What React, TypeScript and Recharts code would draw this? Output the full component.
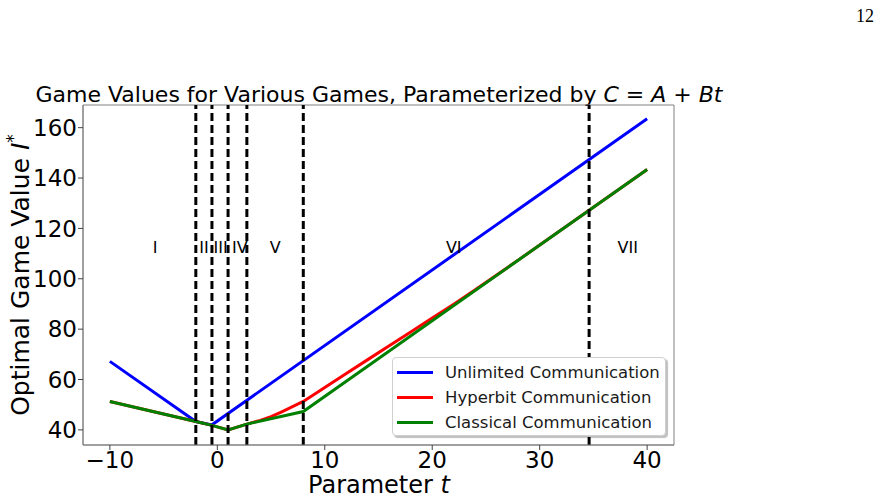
import { ComposedChart, Line, Scatter, XAxis, YAxis, ReferenceLine, ReferenceArea, Legend } from 'recharts';

const unlimited = [
  { t: -10, v: 67.2 },
  { t: -2, v: 43.3 },
  { t: -0.5, v: 42.0 },
  { t: 40, v: 163.5 },
];

const hyperbit = [
  { t: -10, v: 51.3 },
  { t: -2, v: 43.3 },
  { t: -0.5, v: 41.8 },
  { t: 1, v: 40.0 },
  { t: 2.75, v: 42.3 },
  { t: 4, v: 43.8 },
  { t: 5, v: 45.3 },
  { t: 6, v: 47.2 },
  { t: 7, v: 49.2 },
  { t: 8, v: 51.3 },
  { t: 10, v: 56.8 },
  { t: 12, v: 62.4 },
  { t: 14, v: 67.9 },
  { t: 16, v: 73.4 },
  { t: 18, v: 78.9 },
  { t: 20, v: 84.4 },
  { t: 22, v: 89.9 },
  { t: 24, v: 95.6 },
  { t: 26, v: 101.5 },
  { t: 28, v: 107.4 },
  { t: 40, v: 143.4 },
];

const classical = [
  { t: -10, v: 51.3 },
  { t: -2, v: 43.3 },
  { t: -0.5, v: 41.8 },
  { t: 1, v: 40.0 },
  { t: 2.75, v: 42.3 },
  { t: 8, v: 47.3 },
  { t: 40, v: 143.4 },
];

const boundaries = [-2, -0.5, 1, 2.75, 8, 34.6];

const regions = [
  { t: -5.8, v: 112.4, label: 'I' },
  { t: -1.25, v: 112.4, label: 'II' },
  { t: 0.3, v: 112.4, label: 'III' },
  { t: 2.1, v: 112.4, label: 'IV' },
  { t: 5.4, v: 112.4, label: 'V' },
  { t: 22.0, v: 112.4, label: 'VI' },
  { t: 38.2, v: 112.4, label: 'VII' },
];

const xTicks = [-10, 0, 10, 20, 30, 40];
const yTicks = [40, 60, 80, 100, 120, 140, 160];

const seriesInfo = [
  { name: 'Unlimited Communication', color: '#0000ff' },
  { name: 'Hyperbit Communication', color: '#ff0000' },
  { name: 'Classical Communication', color: '#008000' },
];

const FONT = '"DejaVu Sans", sans-serif';

function RegionLabel(props: any) {
  const { cx, cy, payload } = props;
  return (
    <text x={cx} y={cy} textAnchor="middle" dominantBaseline="central" fontSize={16} fontFamily={FONT} fill="#000">
      {payload.label}
    </text>
  );
}

function LegendBox() {
  return (
    <div
      style={{
        width: 274,
        height: 79,
        boxSizing: 'border-box',
        background: '#fff',
        border: '1px solid #d0d0d0',
        borderRadius: 4,
        boxShadow: '2px 2px 1px rgba(0,0,0,0.25)',
        padding: '2px 0 0 4px',
        fontFamily: FONT,
        fontSize: 16.5,
        color: '#1a1a1a',
        textAlign: 'left',
      }}
    >
      {seriesInfo.map((s) => (
        <div key={s.name} style={{ display: 'flex', alignItems: 'center', height: 25, whiteSpace: 'nowrap' }}>
          <div style={{ width: 36, height: 3, background: s.color, marginRight: 12 }} />
          <span>{s.name}</span>
        </div>
      ))}
    </div>
  );
}

export default function App() {
  return (
    <div style={{ position: 'absolute', left: 0, top: 0, width: 883, height: 498, background: '#fff' }}>
      <div
        style={{
          position: 'absolute',
          left: 856,
          top: 6,
          fontFamily: '"Liberation Serif", serif',
          fontSize: 18,
          color: '#000',
        }}
      >
        12
      </div>
      <ComposedChart width={883} height={498} margin={{ top: 105, right: 209, bottom: 0, left: 0 }}>
        <XAxis
          type="number"
          dataKey="t"
          domain={[-12.5, 42.5]}
          ticks={xTicks}
          allowDataOverflow
          height={53}
          tickSize={5}
          tickMargin={2}
          stroke="#808080"
          tickLine={{ stroke: '#444' }}
          tick={{ fill: '#000', fontSize: 23, fontFamily: FONT }}
          tickFormatter={(v: number) => String(v).replace('-', '\u2212')}
        />
        <YAxis
          type="number"
          dataKey="v"
          domain={[34, 169]}
          ticks={yTicks}
          allowDataOverflow
          width={83}
          tickSize={5}
          tickMargin={1}
          stroke="#808080"
          tickLine={{ stroke: '#444' }}
          tick={{ fill: '#000', fontSize: 23, fontFamily: FONT }}
        />
        <ReferenceArea x1={-12.5} x2={42.5} y1={34} y2={169} fill="none" stroke="#808080" strokeWidth={1} />
        <Line data={unlimited} dataKey="v" name={seriesInfo[0].name} stroke={seriesInfo[0].color} strokeWidth={3} dot={false} type="linear" isAnimationActive={false} />
        <Line data={hyperbit} dataKey="v" name={seriesInfo[1].name} stroke={seriesInfo[1].color} strokeWidth={3} dot={false} type="linear" isAnimationActive={false} />
        <Line data={classical} dataKey="v" name={seriesInfo[2].name} stroke={seriesInfo[2].color} strokeWidth={3} dot={false} type="linear" isAnimationActive={false} />
        {boundaries.map((b) => (
          <ReferenceLine key={b} x={b} stroke="#000" strokeWidth={3} strokeDasharray="8 4" />
        ))}
        <Scatter data={regions} dataKey="v" shape={RegionLabel} isAnimationActive={false} legendType="none" />
        <Legend
          layout="horizontal"
          align="center"
          verticalAlign="middle"
          content={() => <LegendBox />}
          wrapperStyle={{ position: 'absolute', left: 392, top: 357, width: 274, height: 79 }}
        />
        <text x={379} y={102} textAnchor="middle" fontSize={22} fontFamily={FONT} fill="#000">
          Game Values for Various Games, Parameterized by{' '}
          <tspan fontStyle="italic">C</tspan>
          <tspan> = </tspan>
          <tspan fontStyle="italic">A</tspan>
          <tspan> + </tspan>
          <tspan fontStyle="italic">Bt</tspan>
        </text>
        <text x={379} y={493} textAnchor="middle" fontSize={24} fontFamily={FONT} fill="#000">
          Parameter <tspan fontStyle="italic">t</tspan>
        </text>
        <text x={29} y={275} textAnchor="middle" fontSize={25} fontFamily={FONT} fill="#000" transform="rotate(-90, 29, 275)">
          Optimal Game Value <tspan fontStyle="italic">I</tspan>
          <tspan dy={-10} fontSize={17}>*</tspan>
        </text>
      </ComposedChart>
    </div>
  );
}
